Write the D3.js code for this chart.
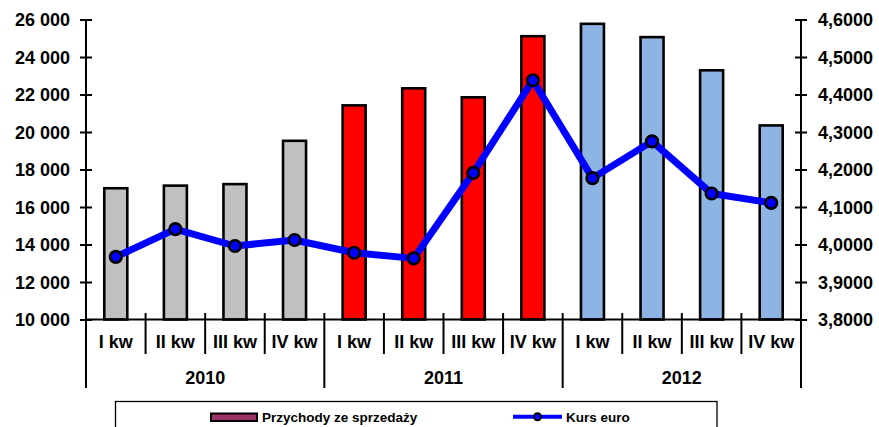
<!DOCTYPE html>
<html><head><meta charset="utf-8">
<script src="https://cdn.jsdelivr.net/npm/d3@7"></script>
<style>body{margin:0;background:#fff;}svg{display:block;font-family:"Liberation Sans",Arial,sans-serif;font-weight:bold;}</style>
</head><body>
<svg id="c" width="879" height="427"></svg>
<script>
const years = ["2010", "2011", "2012"];
const quarters = ["I kw", "II kw", "III kw", "IV kw"];
const revenue = [17000, 17140, 17220, 19530, 21420, 22330, 21850, 25110, 25770, 25060, 23290, 20350];
const euroRate = [3.967, 4.041, 3.996, 4.012, 3.978, 3.963, 4.191, 4.438, 4.177, 4.275, 4.136, 4.111];
const yearColors = ["#C0C0C0", "#FF0000", "#8DB4E2"];
const leftTicks = [10000, 12000, 14000, 16000, 18000, 20000, 22000, 24000, 26000];
const rightTicks = [3.8, 3.9, 4.0, 4.1, 4.2, 4.3, 4.4, 4.5, 4.6];
const legendLabels = ["Przychody ze sprzedaży", "Kurs euro"];

const svg = d3.select("#c");
const L = 86, R = 801, T = 19.5, B = 319.5;
const cats = [];
years.forEach((y, yi) => quarters.forEach((q, qi) => cats.push({year: y, yi, q, i: yi * 4 + qi})));

const x = d3.scaleBand().domain(cats.map(d => d.i)).range([L, R]).paddingInner(0).paddingOuter(0);
const yL = d3.scaleLinear().domain([10000, 26000]).range([B, T]);
const yR = d3.scaleLinear().domain([3.8, 4.6]).range([B, T]);
const fmtL = d => d3.format(",")(d).replace(/,/g, " ");
const fmtR = d => d3.format(".4f")(d).replace(".", ",");

// bars
const bw = 23;
svg.append("g").selectAll("rect").data(cats).join("rect")
  .attr("x", d => x(d.i) + x.bandwidth() / 2 - bw / 2)
  .attr("y", d => yL(revenue[d.i]))
  .attr("width", bw)
  .attr("height", d => B - yL(revenue[d.i]))
  .attr("fill", d => yearColors[d.yi])
  .attr("stroke", "#000").attr("stroke-width", 2.6);

// left axis
const gl = svg.append("g").attr("transform", `translate(${L},0)`)
  .call(d3.axisLeft(yL).tickValues(leftTicks).tickFormat(fmtL).tickSize(6).tickPadding(10));
gl.selectAll(".tick line").attr("x2", 6).attr("x1", -6).attr("stroke-width", 2);
gl.select(".domain").remove();
gl.selectAll("text").attr("font-size", 18).attr("font-weight", "bold").attr("fill", "#000").attr("dy", "0.35em").attr("x", -16).attr("font-family", "Liberation Sans, Arial, sans-serif");
svg.append("line").attr("x1", L).attr("x2", L).attr("y1", T).attr("y2", 388).attr("stroke", "#000").attr("stroke-width", 2);

// right axis
const gr = svg.append("g").attr("transform", `translate(${R},0)`)
  .call(d3.axisRight(yR).tickValues(rightTicks).tickFormat(fmtR).tickSize(6).tickPadding(10));
gr.selectAll(".tick line").attr("x1", -6).attr("x2", 6).attr("stroke-width", 2);
gr.select(".domain").remove();
gr.selectAll("text").attr("font-size", 18).attr("font-weight", "bold").attr("fill", "#000").attr("dy", "0.35em").attr("x", 17).attr("font-family", "Liberation Sans, Arial, sans-serif");
svg.append("line").attr("x1", R).attr("x2", R).attr("y1", T).attr("y2", 388).attr("stroke", "#000").attr("stroke-width", 2);

// baseline
svg.append("line").attr("x1", L).attr("x2", R).attr("y1", B).attr("y2", B).attr("stroke", "#000").attr("stroke-width", 2);

// category separators
svg.append("g").selectAll("line").data(cats.filter(d => d.i > 0)).join("line")
  .attr("x1", d => x(d.i)).attr("x2", d => x(d.i))
  .attr("y1", 313).attr("y2", d => d.i % 4 === 0 ? 388 : 354)
  .attr("stroke", "#000").attr("stroke-width", 2);

// category labels
svg.append("g").selectAll("text").data(cats).join("text")
  .attr("x", d => x(d.i) + x.bandwidth() / 2)
  .attr("y", 348).attr("text-anchor", "middle").attr("font-size", 18).text(d => d.q);

// year labels
svg.append("g").selectAll("text").data(years).join("text")
  .attr("x", (d, i) => (x(i * 4) + x(i * 4 + 3) + x.bandwidth()) / 2)
  .attr("y", 383.5).attr("text-anchor", "middle").attr("font-size", 18).text(d => d);

// euro line
const line = d3.line().x(d => x(d.i) + x.bandwidth() / 2).y(d => yR(euroRate[d.i]));
svg.append("path").datum(cats).attr("d", line).attr("fill", "none")
  .attr("stroke", "#0000FF").attr("stroke-width", 7).attr("stroke-linejoin", "round");
svg.append("g").selectAll("circle").data(cats).join("circle")
  .attr("cx", d => x(d.i) + x.bandwidth() / 2).attr("cy", d => yR(euroRate[d.i]))
  .attr("r", 5.8).attr("fill", "#0000FF").attr("stroke", "#000").attr("stroke-width", 2.6);

// legend
const lg = svg.append("g");
lg.append("rect").attr("x", 115.5).attr("y", 401.5).attr("width", 601.5).attr("height", 40)
  .attr("fill", "#fff").attr("stroke", "#000").attr("stroke-width", 1.3);
lg.append("rect").attr("x", 211).attr("y", 413.5).attr("width", 46).attr("height", 7.5)
  .attr("fill", "#993366").attr("stroke", "#000").attr("stroke-width", 2);
lg.append("text").attr("x", 262).attr("y", 422).attr("font-size", 13.5).text(legendLabels[0]);
lg.append("line").attr("x1", 513).attr("x2", 562).attr("y1", 416.7).attr("y2", 416.7)
  .attr("stroke", "#0000FF").attr("stroke-width", 4);
lg.append("circle").attr("cx", 537.5).attr("cy", 416.7).attr("r", 3.5)
  .attr("fill", "#0000FF").attr("stroke", "#000").attr("stroke-width", 2);
lg.append("text").attr("x", 566).attr("y", 422).attr("font-size", 13.5).text(legendLabels[1]);
</script>
</body></html>
